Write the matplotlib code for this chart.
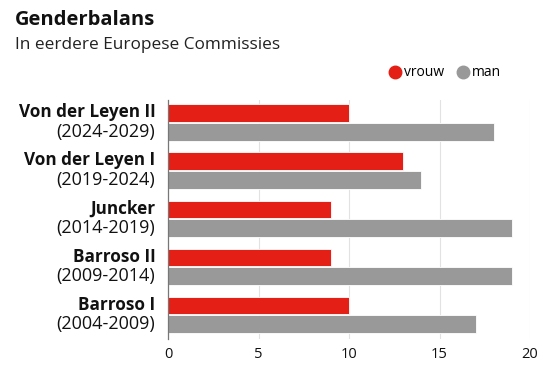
import matplotlib
matplotlib.use("Agg")
import matplotlib.pyplot as plt
from matplotlib.lines import Line2D
import numpy as np

plt.rcParams['font.family'] = ['Open Sans', 'DejaVu Sans']

names = ["Von der Leyen II", "Von der Leyen I", "Juncker", "Barroso II", "Barroso I"]
periods = ["(2024-2029)", "(2019-2024)", "(2014-2019)", "(2009-2014)", "(2004-2009)"]
vrouw = [10, 13, 9, 9, 10]
man = [18, 14, 19, 19, 17]
xticks = [0, 5, 10, 15, 20]

RED = "#e41f15"
GREY = "#999999"

fig = plt.figure(figsize=(5.55, 3.73), dpi=100)
ax = fig.add_axes([168/555, 1-339/373, (530-168)/555, (339-100)/373])

n = len(names)
pos = np.arange(n)[::-1]
off = 0.195
h = 0.37
ax.barh(pos + off, vrouw, height=h, color=RED, edgecolor="white", linewidth=0.6, zorder=3)
ax.barh(pos - off, man, height=h, color=GREY, edgecolor="white", linewidth=0.6, zorder=3)

ax.set_xlim(0, 20)
ax.set_ylim(-0.5, 4.47)
ax.set_xticks(xticks)
ax.set_xticklabels([str(t) for t in xticks], fontsize=10.5, color="#111111")
ax.set_yticks([])
ax.tick_params(axis='x', length=0, pad=6)
for s in ["top", "right", "bottom"]:
    ax.spines[s].set_visible(False)
ax.spines["left"].set_color("#777777")
ax.spines["left"].set_linewidth(0.9)
ax.spines["left"].set_zorder(4)
ax.grid(axis='x', color="#e2e2e2", linewidth=0.8, zorder=0)

tr = ax.get_yaxis_transform()
for p, nm, per in zip(pos, names, periods):
    ax.text(-0.035, p + off + 0.02, nm, transform=tr, ha="right", va="center",
            fontsize=12.3, fontweight="bold", color="#111111")
    ax.text(-0.035, p - off, per, transform=tr, ha="right", va="center",
            fontsize=13, color="#111111")

fig.text(15/555, 1-20/373, "Genderbalans", fontsize=14.5, fontweight="bold",
         color="#111111", ha="left", va="center")
fig.text(15/555, 1-45/373, "In eerdere Europese Commissies", fontsize=12.4,
         color="#222222", ha="left", va="center")

handles = [Line2D([], [], marker='o', linestyle='none', markersize=9,
                  markerfacecolor=RED, markeredgecolor=RED, label="vrouw"),
           Line2D([], [], marker='o', linestyle='none', markersize=9,
                  markerfacecolor=GREY, markeredgecolor=GREY, label="man")]
fig.legend(handles=handles, loc="center right", bbox_to_anchor=(507/555, 1-73/373),
           ncol=2, frameon=False, fontsize=10, handletextpad=0.2,
           columnspacing=0.9, borderaxespad=0, handlelength=0.9)

fig.savefig("out.png", dpi=100)
